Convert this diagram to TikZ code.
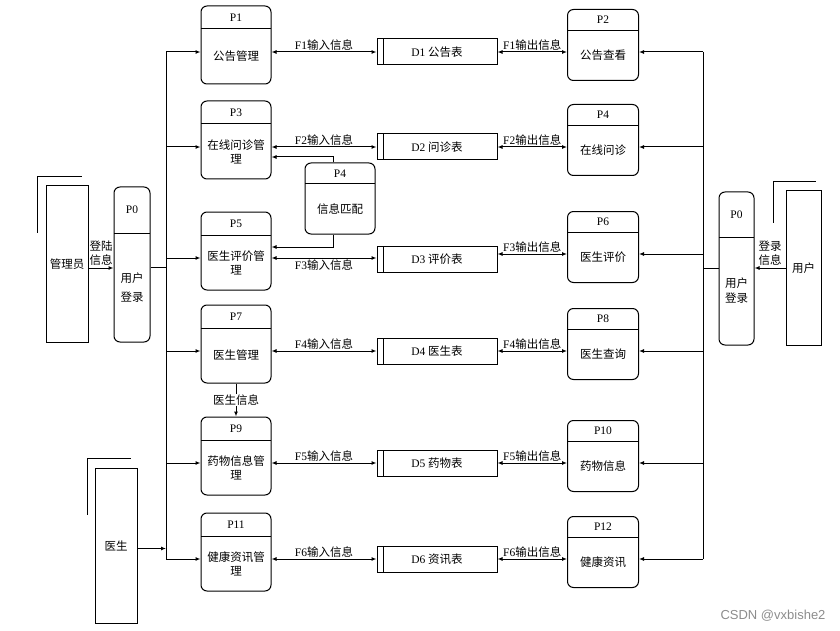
\documentclass[tikz,border=0pt]{standalone}
\usepackage{fontspec}
\setmainfont{Liberation Serif}
\newfontfamily\cjk{Noto Sans CJK SC}
\newfontfamily\wmfont{Liberation Sans}
\usetikzlibrary{arrows.meta,positioning}
\begin{document}
\fontsize{11.5}{14}\selectfont
\begin{tikzpicture}[x=1pt, y=-1pt, line width=1pt, >={Latex[length=5pt,width=4pt]},
	proc/.style={draw, rounded corners=6, minimum width=70, inner sep=0,
		path picture={\draw ([yshift=-#1]path picture bounding box.north west) -- ([yshift=-#1]path picture bounding box.north east);}},
	hd/.style={anchor=north, minimum height=#1, inner sep=0},
	bd/.style={anchor=south, minimum height=#1, inner sep=0, align=center, font=\cjk},
	store/.style={draw, minimum width=120, minimum height=26, inner sep=0,
		path picture={\draw ([xshift=6]path picture bounding box.north west) -- ([xshift=6]path picture bounding box.south west);}},
	ent/.style={draw, inner sep=0, font=\cjk},
	flow/.style={inner sep=1.5}]
			\useasboundingbox (0,0) rectangle (840,631);
			% external entities
			\node[ent, minimum width=42, minimum height=156] (gly) at (67,264) {管理员};
			\node[ent, minimum width=42, minimum height=155] (ys) at (116,545.5) {医生};
			\node[ent, minimum width=35, minimum height=154] (yh) at (803.5,268) {用户};
			\draw ([shift={(-8,47)}]gly.north west) |- ([shift={(-7,-9)}]gly.north east);
			\draw ([shift={(-7,47)}]ys.north west) |- ([shift={(-7,-9)}]ys.north east);
			\draw ([shift={(-12,32)}]yh.north west) |- ([shift={(-6,-9)}]yh.north east);
			% login
			\node[proc=46, minimum width=36, minimum height=155, label={[hd=46]north:P0}, label={[bd=109]south:{用户\\[5pt]登录}}] (p0l) at (132,264.5) {};
			\node[proc=45, minimum width=35, minimum height=153, label={[hd=45]north:P0}, label={[bd=108]south:{用户\\[1pt]登录}}] (p0r) at (736.5,268.5) {};
			% left processes
			\node[proc=23, minimum height=78, label={[hd=23]north:P1}, label={[bd=55]south:公告管理}] (p1) at (236,45) {};
			\node[proc=23, minimum height=78, label={[hd=23]north:P3}, label={[bd=55]south:{在线问诊管\\理}}] (p3) at (236,140) {};
			\node[proc=23, minimum height=78, label={[hd=23]north:P5}, label={[bd=55]south:{医生评价管\\理}}] (p5) at (236,251) {};
			\node[proc=23, minimum height=78, label={[hd=23]north:P7}, label={[bd=55]south:医生管理}] (p7) at (236,344) {};
			\node[proc=23, minimum height=78, label={[hd=23]north:P9}, label={[bd=55]south:{药物信息管\\理}}] (p9) at (236,456) {};
			\node[proc=23, minimum height=78, label={[hd=23]north:P11}, label={[bd=55]south:{健康资讯管\\理}}] (p11) at (236,552) {};
			% right processes
			\node[proc=21, minimum width=71, minimum height=71, label={[hd=21]north:P2}, label={[bd=50]south:公告查看}] (p2) at (603,45) {};
			\node[proc=21, minimum width=71, minimum height=71, label={[hd=21]north:P4}, label={[bd=50]south:在线问诊}] (p4) at (603,140) {};
			\node[proc=21, minimum width=71, minimum height=71, label={[hd=21]north:P6}, label={[bd=50]south:医生评价}] (p6) at (603,247) {};
			\node[proc=21, minimum width=71, minimum height=71, label={[hd=21]north:P8}, label={[bd=50]south:医生查询}] (p8) at (603,344) {};
			\node[proc=21, minimum width=71, minimum height=71, label={[hd=21]north:P10}, label={[bd=50]south:药物信息}] (p10) at (603,456) {};
			\node[proc=21, minimum width=71, minimum height=71, label={[hd=21]north:P12}, label={[bd=50]south:健康资讯}] (p12) at (603,552) {};
			% matching
			\node[proc=21, minimum height=71, label={[hd=21]north:P4}, label={[bd=50]south:信息匹配}] (pm) at (340,198.5) {};
			% data stores
			\node[store] (d1) at (437,52) {D1 {\cjk 公告表}};
			\node[store] (d2) at (437,147) {D2 {\cjk 问诊表}};
			\node[store] (d3) at (437,259) {D3 {\cjk 评价表}};
			\node[store] (d4) at (437,351) {D4 {\cjk 医生表}};
			\node[store] (d5) at (437,463) {D5 {\cjk 药物表}};
			\node[store] (d6) at (437,559) {D6 {\cjk 资讯表}};
			\node[font=\wmfont\fontsize{13}{15}\selectfont, text=black!45] (mark) at (773,616) {CSDN @vxbishe2};
			\coordinate (bl) at (166,0);
			\coordinate (br) at (703,0);
			% Arrows
			\draw[->] ([yshift=-4]gly.east) -- ([yshift=-4]gly.east -| p0l.west) node[midway, above, align=center, font=\cjk, inner sep=2] (t1) {登陆\\信息};
			\draw ([yshift=-3]p0l.east) -- ([yshift=-3]p0l.east -| bl);
			\draw[->] ([yshift=-3]ys.east) -- ([yshift=-3]ys.east -| bl);
			\draw ([yshift=-7]p1.west -| bl) -- ([yshift=-7]p11.west -| bl);
			\draw[->] ([yshift=-7]p1.west -| bl) -- ([yshift=-7]p1.west);
			\draw[->] ([yshift=-7]p3.west -| bl) -- ([yshift=-7]p3.west);
			\draw[->] ([yshift=-7]p5.west -| bl) -- ([yshift=-7]p5.west);
			\draw[->] ([yshift=-7]p7.west -| bl) -- ([yshift=-7]p7.west);
			\draw[->] ([yshift=-7]p9.west -| bl) -- ([yshift=-7]p9.west);
			\draw[->] ([yshift=-7]p11.west -| bl) -- ([yshift=-7]p11.west);
			\draw[->] (yh.west) -- (yh.west -| p0r.east) node[midway, above, align=center, font=\cjk, inner sep=2] (t2) {登录\\信息};
			\draw (p0r.west) -- (p0r.west -| br);
			\draw ([yshift=-7]p2.east -| br) -- ([yshift=-7]p12.east -| br);
			\draw[->] ([yshift=-7]p2.east -| br) -- ([yshift=-7]p2.east);
			\draw[->] ([yshift=-7]p4.east -| br) -- ([yshift=-7]p4.east);
			\draw[->] ([yshift=-7]p6.east -| br) -- ([yshift=-7]p6.east);
			\draw[->] ([yshift=-7]p8.east -| br) -- ([yshift=-7]p8.east);
			\draw[->] ([yshift=-7]p10.east -| br) -- ([yshift=-7]p10.east);
			\draw[->] ([yshift=-7]p12.east -| br) -- ([yshift=-7]p12.east);
			% flows to and from the stores
			\draw[<->] ([yshift=-7]p1.east) -- ([yshift=-7]p1.east -| d1.west) node[midway, above, flow] (f1i) {F1{\cjk 输入信息}};
			\draw[<->] ([yshift=-7]p3.east) -- ([yshift=-7]p3.east -| d2.west) node[midway, above, flow] (f2i) {F2{\cjk 输入信息}};
			\draw[<->] ([yshift=-7]p5.east) -- ([yshift=-7]p5.east -| d3.west) node[midway, below, flow] (f3i) {F3{\cjk 输入信息}};
			\draw[<->] ([yshift=-7]p7.east) -- ([yshift=-7]p7.east -| d4.west) node[midway, above, flow] (f4i) {F4{\cjk 输入信息}};
			\draw[<->] ([yshift=-7]p9.east) -- ([yshift=-7]p9.east -| d5.west) node[midway, above, flow] (f5i) {F5{\cjk 输入信息}};
			\draw[<->] ([yshift=-7]p11.east) -- ([yshift=-7]p11.east -| d6.west) node[midway, above, flow] (f6i) {F6{\cjk 输入信息}};
			\draw[<->] ([yshift=-7]p2.west -| d1.east) -- ([yshift=-7]p2.west) node[midway, above, flow] (f1o) {F1{\cjk 输出信息}};
			\draw[<->] ([yshift=-7]p4.west -| d2.east) -- ([yshift=-7]p4.west) node[midway, above, flow] (f2o) {F2{\cjk 输出信息}};
			\draw[<->] ([yshift=-7]p6.west -| d3.east) -- ([yshift=-7]p6.west) node[midway, above, flow] (f3o) {F3{\cjk 输出信息}};
			\draw[<->] ([yshift=-7]p8.west -| d4.east) -- ([yshift=-7]p8.west) node[midway, above, flow] (f4o) {F4{\cjk 输出信息}};
			\draw[<->] ([yshift=-7]p10.west -| d5.east) -- ([yshift=-7]p10.west) node[midway, above, flow] (f5o) {F5{\cjk 输出信息}};
			\draw[<->] ([yshift=-7]p12.west -| d6.east) -- ([yshift=-7]p12.west) node[midway, above, flow] (f6o) {F6{\cjk 输出信息}};
			% matching and doctor info
			\draw[->] ([xshift=-7]pm.north) |- ([yshift=-17]p3.east);
			\draw[->] ([xshift=-7]pm.south) |- ([yshift=4]p5.east);
			\draw[->] (p7.south) -- (p9.north) node[midway, fill=white, font=\cjk, inner sep=1] (ysxx) {医生信息};
		\end{tikzpicture}
\end{document}
